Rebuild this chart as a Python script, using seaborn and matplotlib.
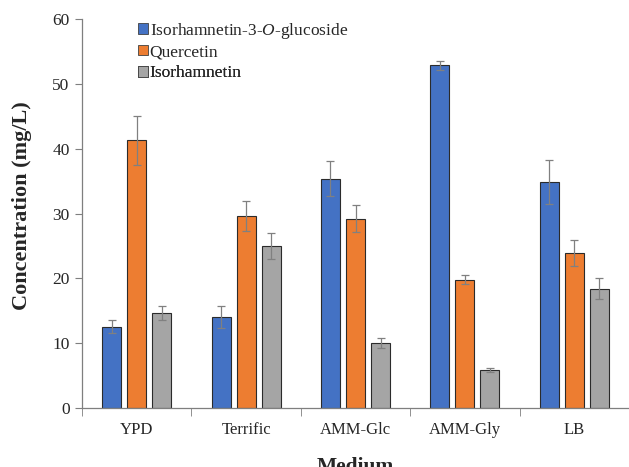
import numpy as np
import pandas as pd
import seaborn as sns
from matplotlib import pyplot as plt
from matplotlib.patches import Patch

media = ["YPD", "Terrific", "AMM-Glc", "AMM-Gly", "LB"]
compounds = ["Isorhamnetin-3-$\\mathit{O}$-glucoside", "Quercetin", "Isorhamnetin"]

# mean concentrations (mg/L)
iso3g = [12.5, 14.0, 35.4, 52.9, 34.9]
querc = [41.3, 29.6, 29.2, 19.8, 23.9]
isorh = [14.7, 25.0, 10.0, 5.8, 18.4]

# error bar half lengths
iso3g_err = [1.0, 1.7, 2.7, 0.7, 3.4]
querc_err = [3.8, 2.3, 2.1, 0.7, 2.0]
isorh_err = [1.1, 2.0, 0.8, 0.3, 1.6]

colors = ["#4472C4", "#ED7D31", "#A5A5A5"]

df = pd.DataFrame({
    "Medium": media * 3,
    "Compound": [compounds[0]] * 5 + [compounds[1]] * 5 + [compounds[2]] * 5,
    "Conc": iso3g + querc + isorh,
    "Err": iso3g_err + querc_err + isorh_err,
})

sns.set_style("white")
plt.rcParams['font.family'] = ['Liberation Serif', 'DejaVu Serif']
plt.rcParams['mathtext.fontset'] = 'custom'
plt.rcParams['mathtext.it'] = 'Liberation Serif:italic'
plt.rcParams['mathtext.rm'] = 'Liberation Serif'

fig = plt.figure(figsize=(6.29, 4.67), dpi=100)
ax = fig.add_axes([0.1304, 0.1263, 0.8696, 0.8330])

sns.barplot(data=df, x="Medium", y="Conc", hue="Compound", order=media,
            hue_order=compounds, palette=colors, saturation=1, errorbar=None,
            width=0.686, gap=0.24, edgecolor="#2b2b2b", linewidth=0.8,
            legend=False, ax=ax)

# error bars placed on the drawn bars
for cont, comp in zip(ax.containers, compounds):
    sub = df[df["Compound"] == comp].set_index("Medium").loc[media]
    xs = [b.get_x() + b.get_width() / 2 for b in cont]
    ax.errorbar(xs, sub["Conc"].values, yerr=sub["Err"].values, fmt="none",
                ecolor="#808080", elinewidth=0.9, capsize=3, capthick=0.9)

ax.set_xlim(-0.5, 4.5)
ax.set_ylim(0, 60)
ax.set_yticks(np.arange(0, 61, 10))
ax.set_xticks(range(5))
ax.set_xticks(np.arange(-0.5, 5, 1), minor=True)
ax.tick_params(axis="x", which="major", length=0, labelsize=12, pad=10)
ax.tick_params(axis="x", which="minor", length=6, color="#7f7f7f", direction="out", bottom=True)
ax.tick_params(axis="y", length=5, color="#7f7f7f", direction="out", left=True, labelsize=12.5, pad=4)

for s in ["top", "right"]:
    ax.spines[s].set_visible(False)
for s in ["left", "bottom"]:
    ax.spines[s].set_color("#7f7f7f")
    ax.spines[s].set_linewidth(0.9)

ax.set_ylabel("Concentration (mg/L)", fontsize=16, fontweight="bold")
ax.yaxis.set_label_coords(-0.092, 0.519)
ax.set_xlabel("Medium", fontsize=15.5, fontweight="bold", labelpad=14)

# one legend per row so the rows sit evenly spaced
row_y = [0.970, 0.915, 0.860]
for comp, col, yy in zip(compounds, colors, row_y):
    h = Patch(facecolor=col, edgecolor="#404040", linewidth=0.6)
    leg = ax.legend(handles=[h], labels=[comp], loc="center left",
                    bbox_to_anchor=(0.103, yy), frameon=False, fontsize=12.5,
                    handlelength=0.55, handleheight=0.55, handletextpad=0.1,
                    borderaxespad=0, borderpad=0)
    ax.add_artist(leg)

plt.savefig("out.png", dpi=100)
